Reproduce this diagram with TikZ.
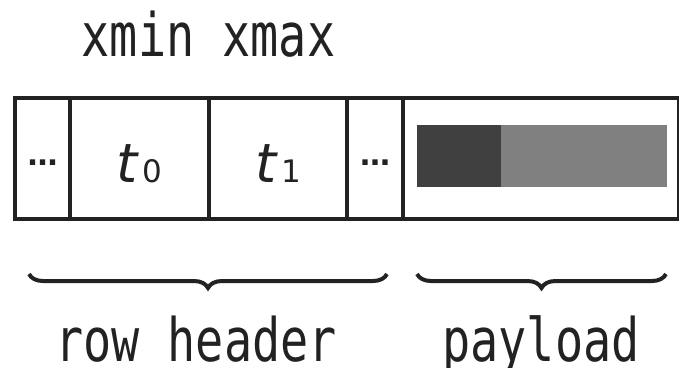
\documentclass[tikz,border=0pt]{standalone}
\usepackage{fontspec}
\usetikzlibrary{decorations.pathreplacing}
\newfontfamily\monofont[FakeStretch=0.78]{DejaVu Sans Mono}
\newfontfamily\cellfont{DejaVu Sans}
\definecolor{ink}{HTML}{222222}
\definecolor{darkpart}{HTML}{404040}
\definecolor{lightpart}{HTML}{808080}
\pgfdeclarelayer{edgelayer}
\pgfdeclarelayer{nodelayer}
\pgfsetlayers{edgelayer,nodelayer,main}
\tikzstyle{cell}=[rectangle,draw=ink,line width=4pt,inner sep=0pt,outer sep=0pt,minimum height=121pt,text=ink]
\tikzstyle{timecell}=[style=cell,font=\cellfont\fontsize{54}{54}\selectfont,text height=49pt,text depth=0pt]
\tikzstyle{dotcell}=[style=cell,font=\cellfont\bfseries\fontsize{30}{30}\selectfont,text height=15pt,text depth=0pt]
\tikzstyle{bar}=[rectangle,inner sep=0pt,outer sep=0pt,minimum height=62pt]
\tikzstyle{word}=[inner sep=0pt,text=ink,font=\monofont\fontsize{60}{60}\selectfont]
\tikzstyle{grouping}=[decorate,decoration={brace,mirror,amplitude=14pt},draw=ink,line width=4pt]
\newcommand{\tsub}[1]{{\itshape t}\kern5pt{\fontsize{31}{31}\selectfont #1}}

\begin{document}
\begin{tikzpicture}[x=1pt,y=-1pt]
	\useasboundingbox (0,0) rectangle (679,367);
	\begin{pgfonlayer}{nodelayer}
		\node [style=dotcell, minimum width=55pt] (dl) at (42.5, 158) {…};
		\node [style=timecell, minimum width=139pt] (t0) at (139.5, 158) {\tsub{0}};
		\node [style=timecell, minimum width=138pt] (t1) at (278, 158) {\tsub{1}};
		\node [style=dotcell, minimum width=56pt] (dr) at (375, 158) {…};
		\node [style=cell, minimum width=276pt] (pl) at (541, 158) {};
	\end{pgfonlayer}
	\begin{pgfonlayer}{edgelayer}
		\node [style=bar, fill=darkpart, minimum width=84pt] (hd) at (459, 156) {};
		\node [style=bar, fill=lightpart, minimum width=166pt] (bd) at (584, 156) {};
	\end{pgfonlayer}
	\node [style=word, anchor=base] (mm) at (208.5, 56) {xmin xmax};
	\coordinate (rl) at (29, 274);
	\coordinate (rr) at (387, 274);
	\coordinate (pl0) at (417, 274);
	\coordinate (pr0) at (666, 274);
	\draw [style=grouping] (rl) -- (rr);
	\draw [style=grouping] (pl0) -- (pr0);
	\node [style=word, anchor=base] (rh) at (196, 361) {row header};
	\node [style=word, anchor=base] (py) at (541, 361) {payload};
\end{tikzpicture}
\end{document}
